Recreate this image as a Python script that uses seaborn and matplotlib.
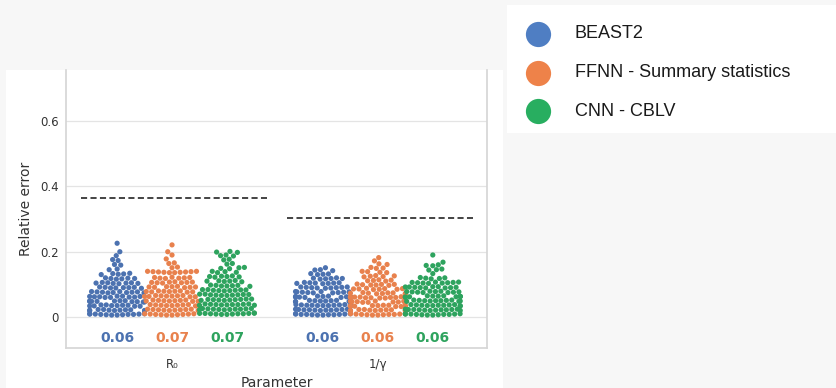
import warnings
import numpy as np
import pandas as pd
import matplotlib
matplotlib.use("Agg")
import matplotlib.pyplot as plt
import seaborn as sns
from seaborn import categorical as sns_categorical

# Relative errors on 100 test trees, per parameter and method
parameters = ["R\u2080", "1/\u03b3"]
methods = ["BEAST2", "FFNN - Summary statistics", "CNN - CBLV"]
method_colors = ["#4C72B0", "#E8814D", "#2EA35E"]
legend_colors = ["#4F7EC3", "#EE8249", "#28AE60"]

beast_r0 = [
    0.006, 0.007, 0.008, 0.009, 0.010, 0.007, 0.008, 0.009, 0.006, 0.010, 0.008, 0.009,
    0.019, 0.020, 0.021, 0.022, 0.023, 0.020, 0.021, 0.022, 0.019, 0.023, 0.021,
    0.033, 0.034, 0.035, 0.036, 0.037, 0.034, 0.035, 0.036, 0.033, 0.037,
    0.046, 0.047, 0.048, 0.049, 0.050, 0.047, 0.048, 0.049, 0.046, 0.050, 0.048,
    0.060, 0.061, 0.062, 0.063, 0.064, 0.061, 0.062, 0.063, 0.060, 0.064,
    0.074, 0.075, 0.076, 0.077, 0.078, 0.075, 0.076, 0.077, 0.074, 0.078,
    0.088, 0.089, 0.090, 0.091, 0.092, 0.089, 0.090, 0.091,
    0.102, 0.103, 0.104, 0.105, 0.106, 0.103, 0.104, 0.105,
    0.116, 0.117, 0.118, 0.119, 0.120, 0.118,
    0.130, 0.131, 0.132, 0.133, 0.134,
    0.145, 0.147, 0.159, 0.161, 0.173, 0.176, 0.188, 0.200, 0.226]
ffnn_r0 = [
    0.006, 0.007, 0.008, 0.009, 0.010, 0.007, 0.008, 0.009, 0.006, 0.010,
    0.020, 0.021, 0.022, 0.023, 0.024, 0.021, 0.022, 0.023, 0.020, 0.024,
    0.034, 0.035, 0.036, 0.037, 0.038, 0.035, 0.036, 0.037, 0.034, 0.038,
    0.048, 0.049, 0.050, 0.051, 0.052, 0.049, 0.050, 0.051, 0.048, 0.052,
    0.062, 0.063, 0.064, 0.065, 0.066, 0.063, 0.064, 0.065, 0.062, 0.066,
    0.076, 0.077, 0.078, 0.079, 0.080, 0.077, 0.078, 0.079, 0.080,
    0.090, 0.091, 0.092, 0.093, 0.094, 0.091, 0.092, 0.093,
    0.104, 0.105, 0.106, 0.107, 0.108, 0.105, 0.106, 0.107,
    0.118, 0.119, 0.120, 0.121, 0.122, 0.119, 0.121,
    0.136, 0.137, 0.138, 0.139, 0.140, 0.137, 0.138, 0.139, 0.136, 0.140,
    0.151, 0.153, 0.164, 0.166, 0.178, 0.190, 0.200, 0.221]
cnn_r0 = [
    0.008, 0.009, 0.010, 0.011, 0.012, 0.009, 0.010, 0.011, 0.008, 0.012, 0.010, 0.011,
    0.022, 0.023, 0.024, 0.025, 0.026, 0.023, 0.024, 0.025, 0.022, 0.026, 0.024,
    0.036, 0.037, 0.038, 0.039, 0.040, 0.037, 0.038, 0.039, 0.036, 0.040, 0.038,
    0.051, 0.052, 0.053, 0.054, 0.055, 0.052, 0.053, 0.054, 0.051, 0.055,
    0.066, 0.067, 0.068, 0.069, 0.070, 0.067, 0.068, 0.069, 0.066, 0.070,
    0.080, 0.081, 0.082, 0.083, 0.084, 0.081, 0.082, 0.083, 0.084,
    0.094, 0.095, 0.096, 0.097, 0.098, 0.095, 0.097,
    0.108, 0.109, 0.110, 0.111, 0.112, 0.110,
    0.122, 0.123, 0.124, 0.125, 0.126, 0.124,
    0.136, 0.137, 0.139, 0.140,
    0.148, 0.149, 0.151, 0.152,
    0.162, 0.164, 0.175, 0.177,
    0.187, 0.188, 0.190, 0.198, 0.199, 0.201]

beast_inv_gamma = [
    0.006, 0.007, 0.008, 0.009, 0.010, 0.007, 0.008, 0.009, 0.006, 0.010, 0.008, 0.007,
    0.020, 0.021, 0.022, 0.023, 0.024, 0.021, 0.022, 0.023, 0.020, 0.024, 0.022, 0.021,
    0.034, 0.035, 0.036, 0.037, 0.038, 0.035, 0.036, 0.037, 0.034, 0.038, 0.036, 0.035,
    0.047, 0.048, 0.049, 0.050, 0.051, 0.048, 0.049, 0.050, 0.047, 0.051, 0.049, 0.048,
    0.060, 0.061, 0.062, 0.063, 0.064, 0.061, 0.062, 0.063, 0.060, 0.064, 0.062,
    0.074, 0.075, 0.076, 0.077, 0.078, 0.075, 0.076, 0.077, 0.074, 0.078,
    0.088, 0.089, 0.090, 0.091, 0.092, 0.089, 0.090, 0.091, 0.092,
    0.102, 0.103, 0.104, 0.105, 0.106, 0.103, 0.104, 0.105,
    0.116, 0.117, 0.118, 0.119, 0.120, 0.118,
    0.130, 0.131, 0.132, 0.133,
    0.142, 0.144, 0.145, 0.151]
ffnn_inv_gamma = [
    0.006, 0.007, 0.008, 0.009, 0.010, 0.007, 0.008, 0.009, 0.006, 0.010, 0.008,
    0.019, 0.020, 0.021, 0.022, 0.023, 0.020, 0.021, 0.022, 0.019, 0.023, 0.021,
    0.032, 0.033, 0.034, 0.035, 0.036, 0.033, 0.034, 0.035, 0.032, 0.036, 0.034,
    0.045, 0.046, 0.047, 0.048, 0.049, 0.046, 0.047, 0.048, 0.045, 0.049, 0.047,
    0.058, 0.059, 0.060, 0.061, 0.062, 0.059, 0.060, 0.061, 0.058, 0.062, 0.060,
    0.071, 0.072, 0.073, 0.074, 0.075, 0.072, 0.073, 0.074, 0.071,
    0.084, 0.085, 0.086, 0.087, 0.088, 0.085, 0.086, 0.087,
    0.097, 0.098, 0.099, 0.100, 0.101, 0.098, 0.100,
    0.110, 0.111, 0.112, 0.113, 0.114,
    0.123, 0.124, 0.125, 0.126, 0.127,
    0.136, 0.137, 0.139, 0.140,
    0.149, 0.150, 0.152,
    0.161, 0.163, 0.172, 0.182]
cnn_inv_gamma = [
    0.006, 0.007, 0.008, 0.009, 0.010, 0.007, 0.008, 0.009, 0.006, 0.010, 0.008, 0.009,
    0.020, 0.021, 0.022, 0.023, 0.024, 0.021, 0.022, 0.023, 0.020, 0.024, 0.022, 0.023,
    0.034, 0.035, 0.036, 0.037, 0.038, 0.035, 0.036, 0.037, 0.034, 0.038, 0.036,
    0.048, 0.049, 0.050, 0.051, 0.052, 0.049, 0.050, 0.051, 0.048, 0.052, 0.050,
    0.061, 0.062, 0.063, 0.064, 0.065, 0.062, 0.063, 0.064, 0.061, 0.065, 0.063,
    0.075, 0.076, 0.077, 0.078, 0.079, 0.076, 0.077, 0.078, 0.075, 0.079,
    0.089, 0.090, 0.091, 0.092, 0.093, 0.090, 0.091, 0.092, 0.089, 0.093,
    0.103, 0.104, 0.105, 0.106, 0.107, 0.104, 0.105, 0.106, 0.107,
    0.117, 0.118, 0.119, 0.120, 0.121,
    0.133, 0.144, 0.145, 0.147, 0.157, 0.158, 0.160, 0.168, 0.190]

# Error of a naive baseline predictor for each parameter
baseline_error = [0.364, 0.303]

errors = {
    (parameters[0], methods[0]): beast_r0,
    (parameters[0], methods[1]): ffnn_r0,
    (parameters[0], methods[2]): cnn_r0,
    (parameters[1], methods[0]): beast_inv_gamma,
    (parameters[1], methods[1]): ffnn_inv_gamma,
    (parameters[1], methods[2]): cnn_inv_gamma,
}
rows = [(p, m, v) for (p, m), vals in errors.items() for v in vals]
df = pd.DataFrame(rows, columns=["Parameter", "Method", "Relative error"])


# Keep each dodged swarm inside its own slot (one third of the category width)
class DodgedBeeswarm(sns_categorical.Beeswarm):
    def __init__(self, orient="x", width=0.8, warn_thresh=0.05):
        super().__init__(orient=orient, width=width / len(methods), warn_thresh=warn_thresh)


sns_categorical.Beeswarm = DodgedBeeswarm
warnings.filterwarnings("ignore", category=UserWarning)

sns.set_theme(style="whitegrid")
plt.rcParams["font.family"] = ["DejaVu Sans"]

W, H = 837, 388
fig = plt.figure(figsize=(W / 100, H / 100), dpi=100, facecolor="#f7f7f7")

# white panel behind the plot
fig.patches.append(plt.Rectangle((6 / W, 0), (503 - 6) / W, (H - 70) / H,
                                 transform=fig.transFigure, facecolor="white",
                                 edgecolor="none", zorder=-10))

ax = fig.add_axes([66 / W, (H - 348) / H, (487 - 66) / W, (348 - 70) / H])
ax.set_zorder(2)
ax.set_facecolor("white")

sns.swarmplot(data=df, x="Parameter", y="Relative error", hue="Method",
              order=parameters, hue_order=methods, palette=method_colors,
              dodge=True, size=3.75, linewidth=0, legend=False, ax=ax)

# baseline error as a dashed segment over each parameter group
for i, b in enumerate(baseline_error):
    ax.plot([i - 0.44, i + 0.46], [b, b], ls="--", color="#111111", lw=1.1,
            dashes=(4, 2.2), zorder=3)

# median relative error printed under each swarm
offsets = [-0.267, 0.0, 0.267]
for i, p in enumerate(parameters):
    for j, m in enumerate(methods):
        med = np.median(errors[(p, m)])
        ax.text(i + offsets[j], -0.063, f"{med:.2f}", color=method_colors[j],
                ha="center", va="center", fontsize=10, fontweight="bold")

ax.set_xlim(-0.515, 1.53)
ax.set_ylim(-0.095, 0.757)
ax.set_yticks([0, 0.2, 0.4, 0.6])
ax.set_yticklabels(["0", "0.2", "0.4", "0.6"])
ax.tick_params(axis="y", labelsize=8.5, length=0, pad=5, colors="#333333")
ax.tick_params(axis="x", labelsize=8.5, length=0, pad=7.5, colors="#333333")
ax.grid(axis="x", visible=False)
ax.grid(axis="y", color="#e4e4e4", lw=0.9)
for side in ["left", "bottom", "right"]:
    ax.spines[side].set_color("#d6d6d6")
    ax.spines[side].set_visible(True)
ax.spines["top"].set_visible(False)
ax.set_ylabel("Relative error", fontsize=10, color="#333333", labelpad=5)
ax.set_xlabel("Parameter", fontsize=10, color="#333333", labelpad=3)

# method legend in its own white box
lax = fig.add_axes([507 / W, (H - 133) / H, (W - 507) / W, 128 / H])
lax.set_xlim(0, W - 507)
lax.set_ylim(128, 0)
lax.set_facecolor("white")
lax.set_xticks([])
lax.set_yticks([])
lax.grid(False)
for s in lax.spines.values():
    s.set_visible(False)
for j, (m, c) in enumerate(zip(methods, legend_colors)):
    y = 29 + j * 38.5
    lax.scatter([31], [y], s=330, color=c, linewidths=0)
    lax.text(68, y, m, fontsize=13, va="center", ha="left",
             family=["Liberation Sans", "DejaVu Sans"], color="#1a1a1a")

fig.savefig("out.png", dpi=100, facecolor=fig.get_facecolor())
